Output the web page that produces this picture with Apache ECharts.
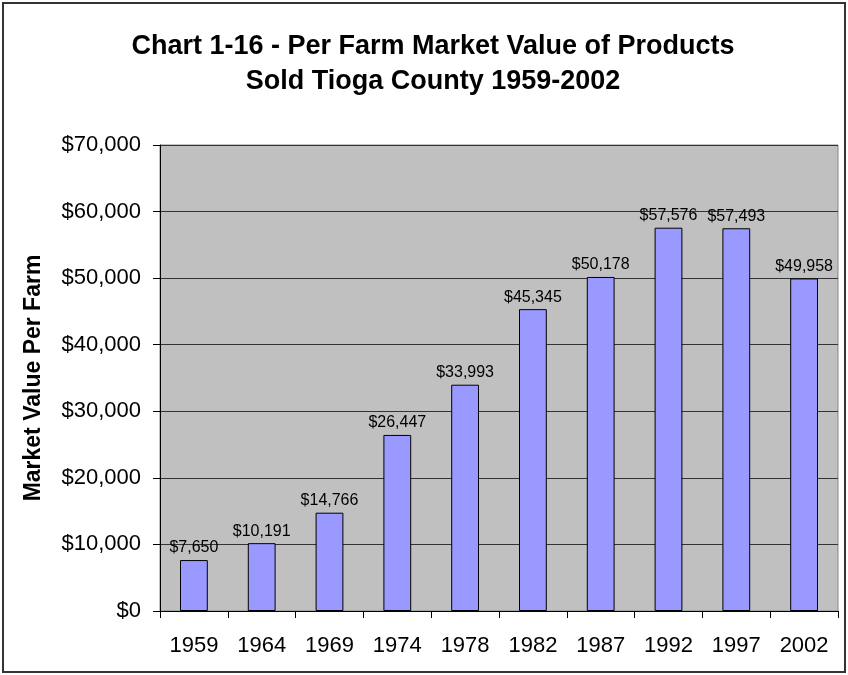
<!DOCTYPE html>
<html><head><meta charset="utf-8">
<script src="https://cdn.jsdelivr.net/npm/echarts@6/dist/echarts.min.js"></script>
<style>html,body{margin:0;padding:0;background:#fff}#c{width:848px;height:675px}</style>
</head><body><div id="c"></div>
<script>
const years = ['1959','1964','1969','1974','1978','1982','1987','1992','1997','2002'];
const values = [7650,10191,14766,26447,33993,45345,50178,57576,57493,49958];
const yTicks = [0,10000,20000,30000,40000,50000,60000,70000];
const fmt = v => '$' + v.toLocaleString('en-US');
const chart = echarts.init(document.getElementById('c'));
chart.setOption({
  animation:false,
  textStyle:{fontFamily:'Liberation Sans, Arial, sans-serif'},
  title:{text:'Chart 1-16 - Per Farm Market Value of Products\nSold Tioga County 1959-2002',left:428,textAlign:'center',top:24,
    textStyle:{fontSize:27,fontWeight:'bold',color:'#000',lineHeight:35,fontFamily:'Liberation Sans, Arial, sans-serif'}},
  graphic:[{type:'rect',shape:{x:3,y:3,width:842,height:669},style:{fill:'none',stroke:'#333',lineWidth:2},z:100}],
  grid:{left:160,right:10,top:145,bottom:64,show:true,backgroundColor:'#C0C0C0',borderColor:'#888',borderWidth:1},
  xAxis:{type:'category',data:years,
    axisLine:{lineStyle:{color:'#000'}},
    axisTick:{show:true,length:7,lineStyle:{color:'#000'}},
    axisLabel:{fontSize:22,color:'#000',margin:24}},
  yAxis:{type:'value',min:yTicks[0],max:yTicks[yTicks.length-1],interval:10000,
    name:'Market Value Per Farm',nameLocation:'middle',nameGap:115,
    nameTextStyle:{fontSize:23,fontWeight:'bold',color:'#000'},
    axisLine:{show:true,lineStyle:{color:'#000'}},
    axisTick:{show:true,length:7,lineStyle:{color:'#000'}},
    splitLine:{lineStyle:{color:'#333'}},
    axisLabel:{fontSize:22,color:'#000',margin:19,formatter:v=>fmt(v)}},
  series:[{type:'bar',data:values,barWidth:'41%',
    itemStyle:{color:'#9999FF',borderColor:'#000',borderWidth:1},
    label:{show:true,position:'top',distance:4,fontSize:16,color:'#000',formatter:p=>fmt(p.value)}}]
});
</script></body></html>
